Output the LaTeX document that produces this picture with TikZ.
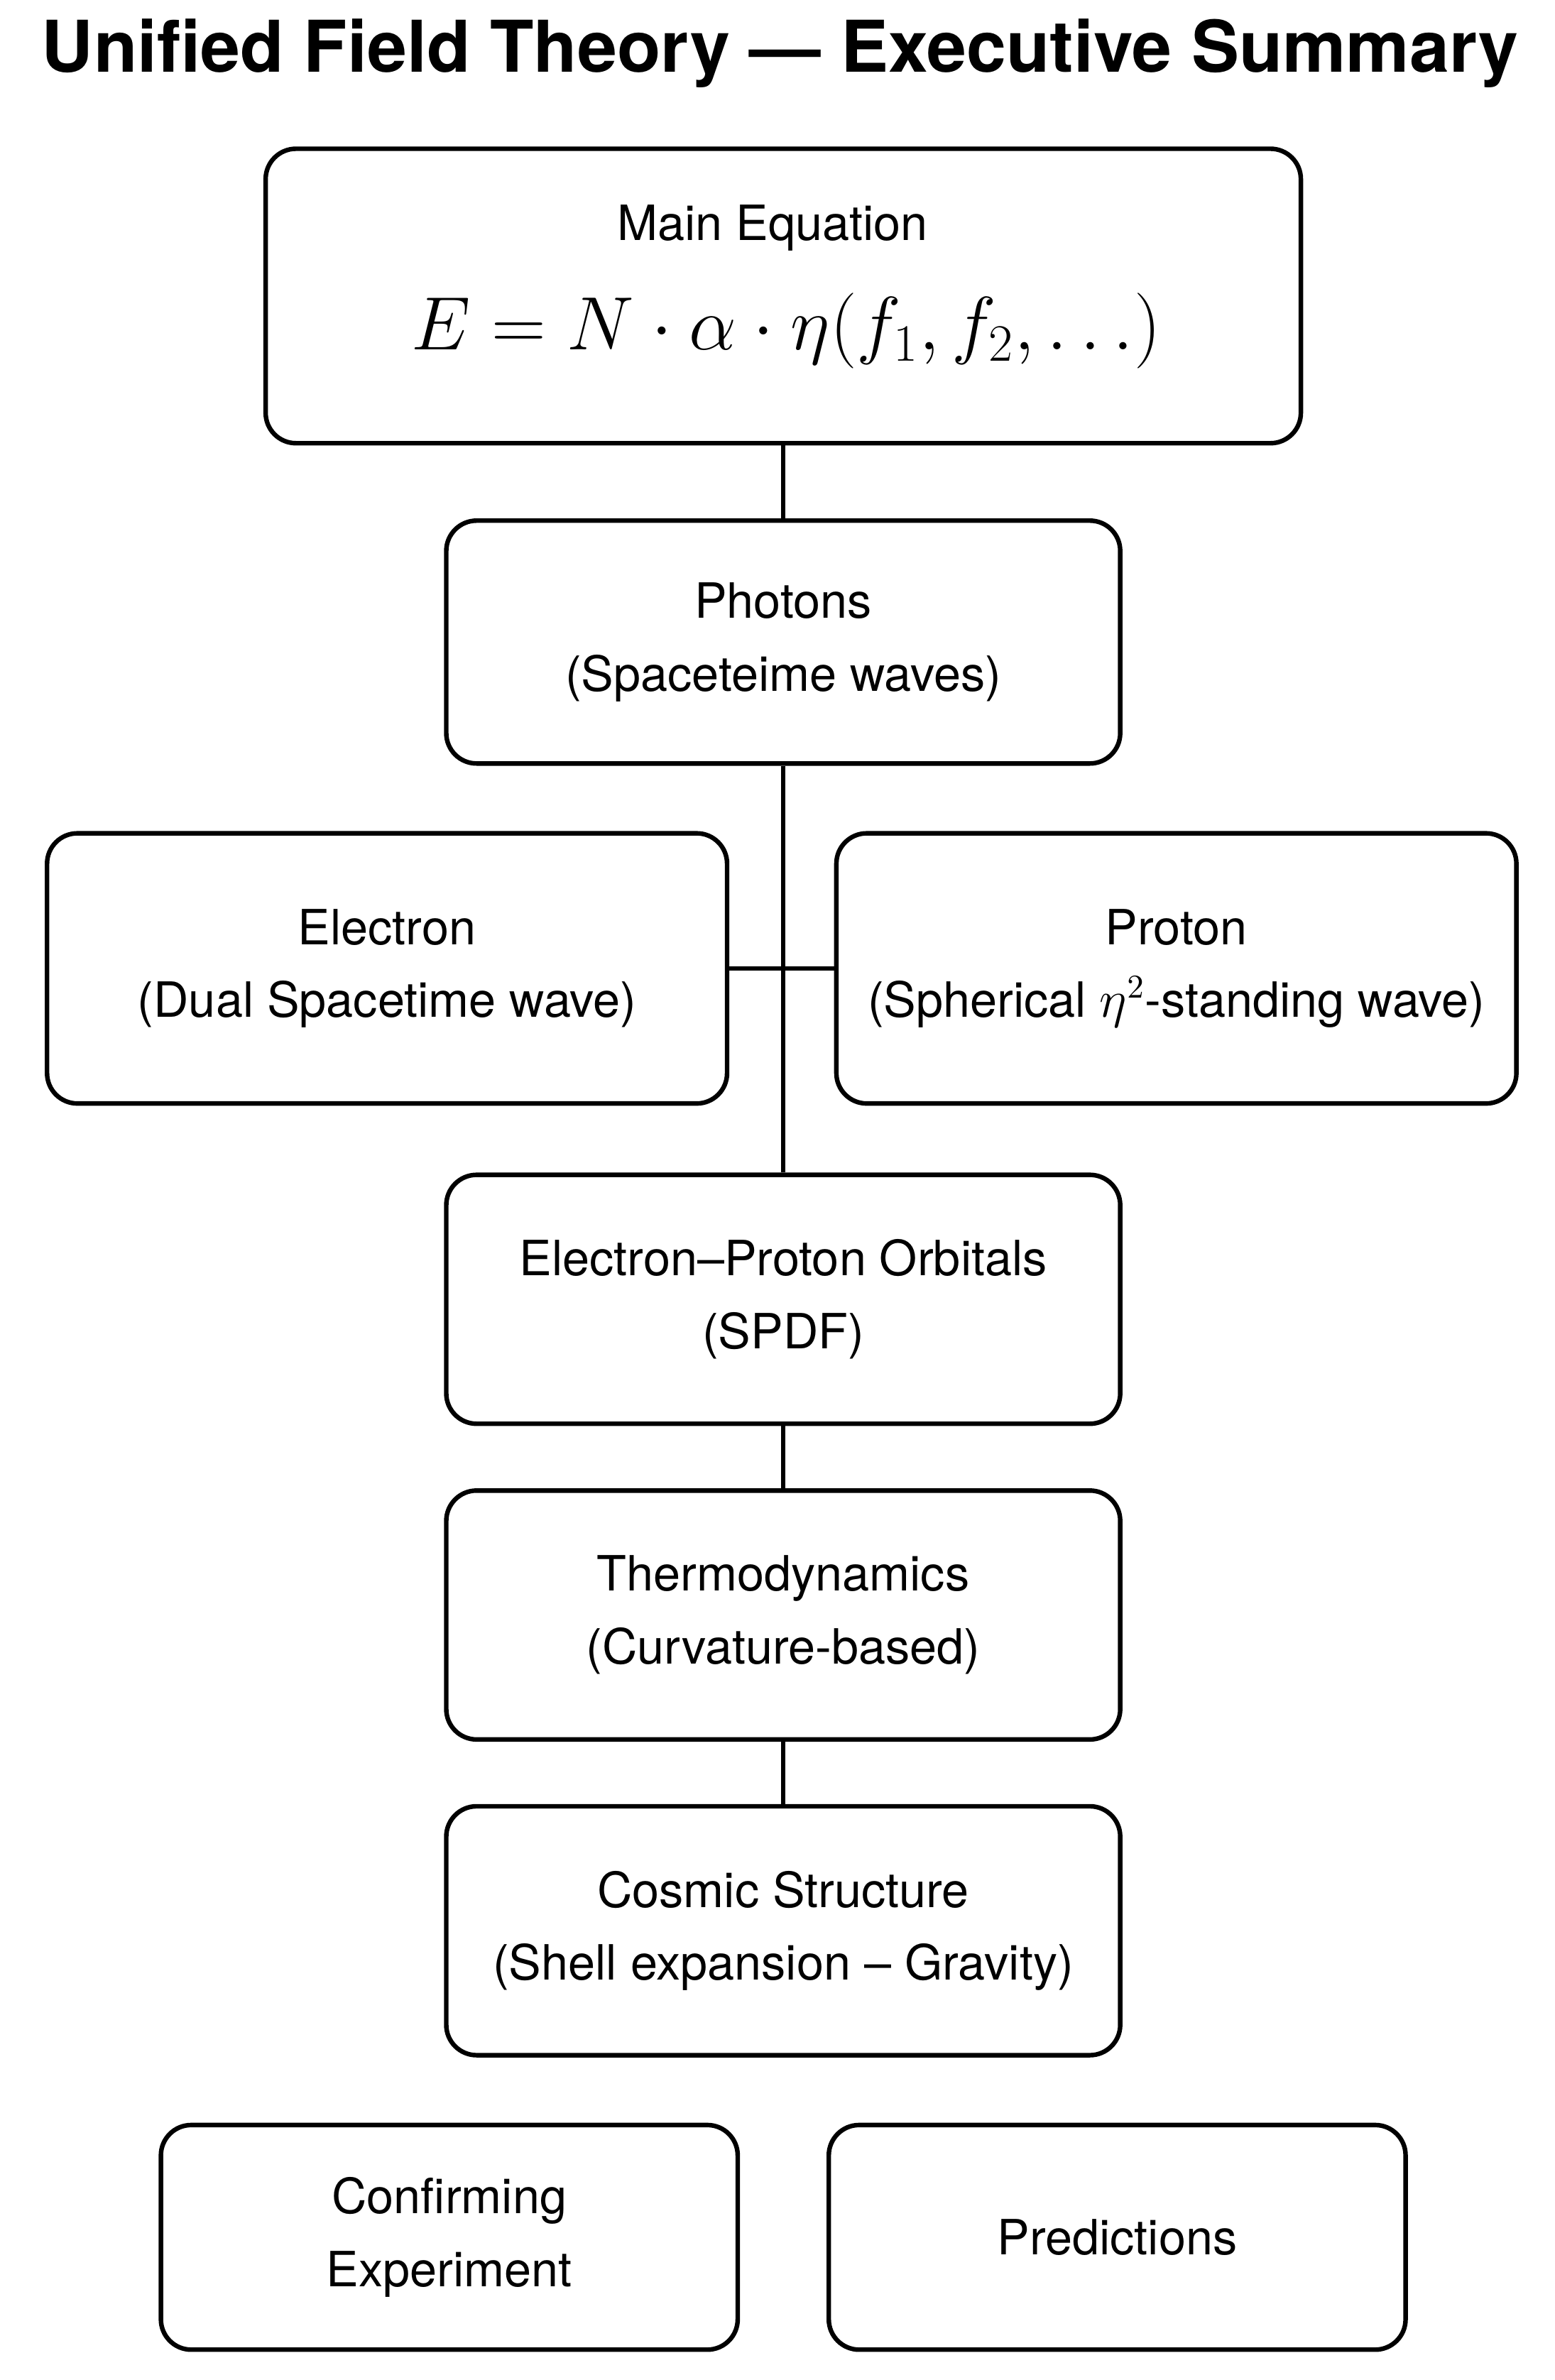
\documentclass[tikz,border=0pt]{standalone}
\usepackage{fontspec}
\setmainfont{TeX Gyre Heros}
\begin{document}
\begin{tikzpicture}[x=0.5pt,y=-0.5pt,
  box/.style={draw,line width=1.5pt,rounded corners=10pt,align=center,font=\fontsize{16}{24}\selectfont,inner sep=0pt},
  conn/.style={line width=1.5pt}]
\useasboundingbox (0,0) rectangle (1024,1568);
\node[font=\bfseries\fontsize{23.5}{28}\selectfont] (title) at (514,35) {Unified Field Theory — Executive Summary};
\node[box,minimum width=341pt,minimum height=97pt] (main) at (516,195) {};
\node[font=\fontsize{16}{20}\selectfont] (mt) at (509,150) {Main Equation};
\node[font=\fontsize{24}{30}\selectfont] (eq) at (518,218) {$E = N\cdot\alpha\cdot\eta(f_1, f_2, \ldots)$};
\node[box,minimum width=222pt,minimum height=80pt] (ph) at (516,423) {Photons\\(Spaceteime waves)};
\node[box,minimum width=224pt,minimum height=89pt] (el) at (255,638) {Electron\\(Dual Spacetime wave)};
\node[box,minimum width=224pt,minimum height=89pt] (pr) at (775,638) {Proton\\(Spherical $\eta^2$-standing wave)};
\node[box,minimum width=222pt,minimum height=82pt] (orb) at (516,856) {Electron–Proton Orbitals\\(SPDF)};
\node[box,minimum width=222pt,minimum height=82pt] (th) at (516,1064) {Thermodynamics\\(Curvature-based)};
\node[box,minimum width=222pt,minimum height=82pt] (co) at (516,1272) {Cosmic Structure\\(Shell expansion – Gravity)};
\node[box,minimum width=190pt,minimum height=74pt] (cf) at (296,1474) {Confirming\\Experiment};
\node[box,minimum width=190pt,minimum height=74pt] (pd) at (736,1474) {Predictions};
\draw[conn] (main.south) -- (ph.north);
\draw[conn] (ph.south) -- (orb.north);
\draw[conn] (el.east) -- (pr.west);
\draw[conn] (orb.south) -- (th.north);
\draw[conn] (th.south) -- (co.north);
\end{tikzpicture}
\end{document}
